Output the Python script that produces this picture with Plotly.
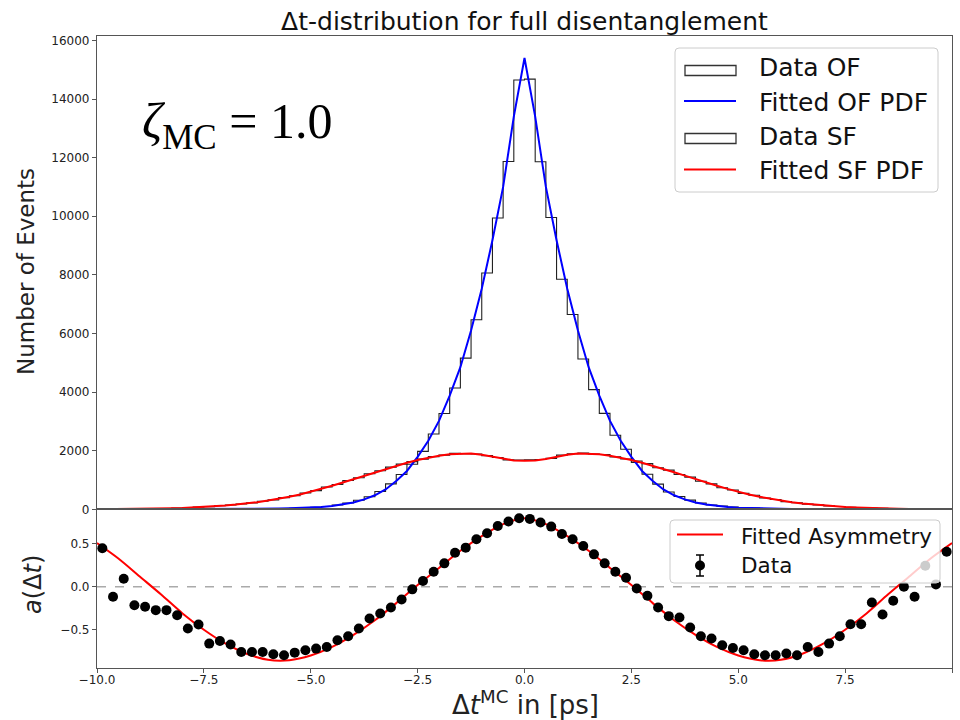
import numpy as np
import plotly.graph_objects as go

# ---- histogram binning (80 bins of 0.25 ps) ----
BIN_LO, BIN_HI, N_BINS = -10.0, 10.0, 80

# opposite-flavour event counts per bin, from -10 ps to +10 ps
of_counts = [1, 1, 1, 2, 2, 2, 3, 3, 4, 5, 6, 8, 9, 12, 15, 19, 25, 31, 40, 52,
             72, 100, 150, 215, 310, 430, 610, 870, 1190, 1540, 1980, 2570, 3270, 4140, 5160, 6470, 8065, 9940, 11870, 14650,
             14680, 11860, 9960, 7850, 6650, 5130, 4085, 3275, 2530, 2050, 1600, 1200, 860, 590, 440, 315, 215, 150, 110, 75,
             55, 41, 31, 24, 19, 14, 11, 9, 7, 6, 5, 4, 3, 3, 2, 2, 2, 1, 1, 1]

# same-flavour event counts per bin
sf_counts = [6, 7, 11, 13, 19, 25, 32, 45, 57, 76, 95, 122, 148, 185, 220, 275, 325, 400, 465, 560,
             640, 765, 850, 985, 1080, 1215, 1315, 1440, 1545, 1630, 1715, 1800, 1850, 1910, 1895, 1890, 1835, 1770, 1690, 1680,
             1690, 1700, 1740, 1850, 1900, 1925, 1890, 1870, 1790, 1720, 1650, 1560, 1420, 1340, 1190, 1100, 960, 870, 740, 660,
             545, 480, 390, 335, 265, 225, 180, 152, 118, 98, 74, 60, 43, 34, 25, 18, 14, 11, 8, 6]

# fitted PDFs evaluated on a 0.25 ps grid from -10 to +10 (81 points)
of_fit = [1, 1, 1, 1, 2, 2, 2, 3, 3, 4, 5, 6, 8, 10, 12, 16, 20, 26, 34, 44,
          58, 80, 112, 165, 235, 340, 480, 680, 970, 1310, 1790, 2340, 3020, 3880, 4850, 6100, 7530, 9180, 11000, 13400,
          15400,
          13400, 11000, 9180, 7530, 6100, 4850, 3880, 3020, 2340, 1790, 1310, 970, 680, 480, 340, 235, 165, 112, 80,
          58, 44, 34, 26, 20, 16, 12, 10, 8, 6, 5, 4, 3, 3, 2, 2, 2, 1, 1, 1, 1]
sf_fit = [5, 7, 9, 12, 16, 21, 28, 38, 50, 66, 85, 108, 135, 165, 200, 245, 300, 360, 430, 510,
          600, 700, 805, 915, 1030, 1150, 1265, 1380, 1490, 1590, 1685, 1765, 1830, 1880, 1905, 1905, 1865, 1795, 1720, 1670,
          1655,
          1670, 1720, 1795, 1865, 1905, 1905, 1880, 1830, 1765, 1685, 1590, 1490, 1380, 1265, 1150, 1030, 915, 805, 700,
          600, 510, 430, 360, 300, 245, 200, 165, 135, 108, 85, 66, 50, 38, 28, 21, 16, 12, 9, 7, 5]

# measured asymmetry at bin centres
asym_data = [0.449, -0.117, 0.093, -0.214, -0.233, -0.272, -0.272, -0.331, -0.486, -0.440,
             -0.662, -0.631, -0.673, -0.759, -0.759, -0.759, -0.786, -0.798, -0.767, -0.740,
             -0.720, -0.701, -0.623, -0.576, -0.486, -0.369, -0.311, -0.241, -0.147, -0.030,
             0.067, 0.175, 0.273, 0.397, 0.456, 0.554, 0.624, 0.709, 0.760, 0.799,
             0.791, 0.748, 0.701, 0.616, 0.554, 0.475, 0.378, 0.273, 0.175, 0.105,
             -0.019, -0.105, -0.241, -0.342, -0.358, -0.474, -0.576, -0.603, -0.681, -0.713,
             -0.740, -0.786, -0.798, -0.798, -0.778, -0.798, -0.701, -0.759, -0.662, -0.576,
             -0.436, -0.436, -0.183, -0.323, -0.163, 0.000, -0.117, 0.245, 0.028, 0.409]

# fitted asymmetry on a 0.5 ps grid from -10 to +10 (41 points)
asym_fit = [0.51, 0.33, 0.12, -0.09, -0.31, -0.50, -0.66, -0.78, -0.85, -0.855,
            -0.80, -0.70, -0.56, -0.39, -0.19, 0.02, 0.22, 0.42, 0.59, 0.73,
            0.80,
            0.73, 0.59, 0.42, 0.22, 0.02, -0.19, -0.39, -0.56, -0.70, -0.80,
            -0.855, -0.85, -0.78, -0.66, -0.50, -0.31, -0.09, 0.12, 0.33, 0.51]

# tick labels
x_tickvals = [-10.0, -7.5, -5.0, -2.5, 0.0, 2.5, 5.0, 7.5, 10.0]
x_ticktext = ["\u221210.0", "\u22127.5", "\u22125.0", "\u22122.5", "0.0", "2.5", "5.0", "7.5", "10.0"]
y_tickvals = [0, 2000, 4000, 6000, 8000, 10000, 12000, 14000, 16000]
y_ticktext = ["0", "2000", "4000", "6000", "8000", "10000", "12000", "14000", "16000"]
a_tickvals = [-0.5, 0.0, 0.5]
a_ticktext = ["\u22120.5", "0.0", "0.5"]

# legend labels
dist_labels = ["Data OF", "Fitted OF PDF", "Data SF", "Fitted SF PDF"]
asym_labels = ["Fitted Asymmetry", "Data"]

edges = np.linspace(BIN_LO, BIN_HI, N_BINS + 1)
centers = 0.5 * (edges[:-1] + edges[1:])
fit_grid = np.linspace(BIN_LO, BIN_HI, len(of_fit))
asym_grid = np.linspace(BIN_LO, BIN_HI, len(asym_fit))

# page geometry (pixels) of the plotting area
W, H = 960, 720
ML, MR, MT, MB = 97, 8, 36, 52
PW, PH = W - ML - MR, H - MT - MB


def px(x):
    """Horizontal page pixel -> paper coordinate."""
    return (x - ML) / PW


def py(y):
    """Vertical page pixel (from top) -> paper coordinate."""
    return (H - MB - y) / PH


def step_outline(counts):
    """Outline of a step histogram that starts and ends on the baseline."""
    xs = [edges[0]] + list(edges) + [edges[-1]]
    ys = [0] + list(counts) + [counts[-1], 0]
    return xs, ys


FONT = "DejaVu Sans"
AX_COL = "#555555"
HIST_COL = "#222222"
BLUE, RED = "#0000ff", "#ff0000"

fig = go.Figure()

# ---- upper panel: distributions ----
hx, hy = step_outline(of_counts)
fig.add_trace(go.Scatter(x=hx, y=hy, mode="lines", name=dist_labels[0],
                         line=dict(color=HIST_COL, width=1.1, shape="hv")))
fig.add_trace(go.Scatter(x=fit_grid, y=of_fit, mode="lines", name=dist_labels[1],
                         line=dict(color=BLUE, width=2)))
hx, hy = step_outline(sf_counts)
fig.add_trace(go.Scatter(x=hx, y=hy, mode="lines", name=dist_labels[2],
                         line=dict(color=HIST_COL, width=1.1, shape="hv")))
fig.add_trace(go.Scatter(x=fit_grid, y=sf_fit, mode="lines", name=dist_labels[3],
                         line=dict(color=RED, width=2)))

# ---- lower panel: asymmetry ----
fig.add_trace(go.Scatter(x=asym_grid, y=asym_fit, mode="lines", name=asym_labels[0],
                         line=dict(color=RED, width=2, shape="spline", smoothing=0.8),
                         xaxis="x2", yaxis="y2"))
fig.add_trace(go.Scatter(x=centers, y=asym_data, mode="markers", name=asym_labels[1],
                         marker=dict(color="black", size=10),
                         xaxis="x2", yaxis="y2"))


def rounded_box(x0, y0, x1, y1, r=4):
    """Rounded rectangle path in paper coordinates from page pixels."""
    pts = []
    pts.append(f"M {px(x0 + r)},{py(y0)}")
    pts.append(f"L {px(x1 - r)},{py(y0)}")
    pts.append(f"Q {px(x1)},{py(y0)} {px(x1)},{py(y0 + r)}")
    pts.append(f"L {px(x1)},{py(y1 - r)}")
    pts.append(f"Q {px(x1)},{py(y1)} {px(x1 - r)},{py(y1)}")
    pts.append(f"L {px(x0 + r)},{py(y1)}")
    pts.append(f"Q {px(x0)},{py(y1)} {px(x0)},{py(y1 - r)}")
    pts.append(f"L {px(x0)},{py(y0 + r)}")
    pts.append(f"Q {px(x0)},{py(y0)} {px(x0 + r)},{py(y0)}")
    pts.append("Z")
    return " ".join(pts)


def box_shape(x0, y0, x1, y1):
    return dict(type="path", xref="paper", yref="paper", path=rounded_box(x0, y0, x1, y1),
                fillcolor="rgba(255,255,255,0.8)", line=dict(color="#cccccc", width=1), layer="above")


def rect_icon(x0, y0, x1, y1):
    return dict(type="rect", xref="paper", yref="paper", x0=px(x0), x1=px(x1), y0=py(y0), y1=py(y1),
                fillcolor="rgba(0,0,0,0)", line=dict(color="#333333", width=1.3), layer="above")


def line_icon(x0, x1, y, color):
    return dict(type="line", xref="paper", yref="paper", x0=px(x0), x1=px(x1), y0=py(y), y1=py(y),
                line=dict(color=color, width=2), layer="above")


shapes = [
    # zero reference line of the asymmetry panel
    dict(type="line", xref="x2 domain", yref="y2", x0=0, x1=1, y0=0, y1=0,
         line=dict(color="#aaaaaa", width=1.5, dash="dash"), layer="below"),
    # legend of the upper panel
    box_shape(675, 48, 938, 192),
    rect_icon(685, 65.5, 736, 75.5),
    line_icon(684, 736, 101, BLUE),
    rect_icon(685, 133.5, 736, 143.5),
    line_icon(684, 736, 169.5, RED),
    # legend of the lower panel
    box_shape(670, 520, 940, 583),
    line_icon(677, 723, 534.5, RED),
    dict(type="line", xref="paper", yref="paper", x0=px(700), x1=px(700), y0=py(555), y1=py(576),
         line=dict(color="black", width=1.5), layer="above"),
    dict(type="line", xref="paper", yref="paper", x0=px(696), x1=px(704), y0=py(555), y1=py(555),
         line=dict(color="black", width=1.5), layer="above"),
    dict(type="line", xref="paper", yref="paper", x0=px(696), x1=px(704), y0=py(576), y1=py(576),
         line=dict(color="black", width=1.5), layer="above"),
    dict(type="circle", xref="paper", yref="paper", x0=px(695), x1=px(705), y0=py(560.5), y1=py(570.5),
         fillcolor="black", line=dict(color="black", width=0), layer="above"),
]

legend_text = []
for label, yc in zip(dist_labels, [66, 101, 135.5, 169.5]):
    legend_text.append(dict(text=label, xref="paper", yref="paper", x=px(757), y=py(yc + 1),
                            xanchor="left", yanchor="middle", showarrow=False,
                            font=dict(family=FONT, size=25, color="#111111")))
for label, yc in zip(asym_labels, [535, 564]):
    legend_text.append(dict(text=label, xref="paper", yref="paper", x=px(739), y=py(yc + 1),
                            xanchor="left", yanchor="middle", showarrow=False,
                            font=dict(family=FONT, size=21.5, color="#111111")))

axis_common = dict(showline=True, mirror=True, linecolor=AX_COL, linewidth=1.2,
                   showgrid=False, zeroline=False, tickcolor=AX_COL, ticklen=4,
                   tickfont=dict(family=FONT, size=12, color="#222222"))

fig.update_layout(
    width=W, height=H,
    margin=dict(l=ML, r=MR, t=MT, b=MB),
    paper_bgcolor="white", plot_bgcolor="white",
    showlegend=False,
    title=dict(text="\u0394t-distribution for full disentanglement", x=0.5, xref="paper",
               y=1 - 21 / H, yref="container", yanchor="middle", xanchor="center",
               font=dict(family=FONT, size=25, color="#111111")),
    xaxis=dict(range=[BIN_LO, BIN_HI], anchor="y", showticklabels=False, ticks="", **axis_common),
    yaxis=dict(domain=[0.251, 1.0], range=[0, 16150], anchor="x", ticks="outside",
               tickvals=y_tickvals, ticktext=y_ticktext, **axis_common),
    xaxis2=dict(range=[BIN_LO, BIN_HI], anchor="y2", matches="x", ticks="outside",
                tickvals=x_tickvals, ticktext=x_ticktext, ticklabelstandoff=-4, **axis_common),
    yaxis2=dict(domain=[0.0, 0.251], range=[-0.946, 0.902], anchor="x2", ticks="outside",
                tickvals=a_tickvals, ticktext=a_ticktext, **axis_common),
    shapes=shapes,
    annotations=legend_text + [
        dict(text="Number of Events", xref="paper", yref="paper", x=px(26), y=py(272),
             textangle=-90, showarrow=False, xanchor="center", yanchor="middle",
             font=dict(family=FONT, size=23, color="#222222")),
        dict(text="<i>a</i>(\u0394<i>t</i>)", xref="paper", yref="paper", x=px(33), y=py(585),
             textangle=-90, showarrow=False, xanchor="center", yanchor="middle",
             font=dict(family=FONT, size=24, color="#222222")),
        dict(text="\u0394<i>t</i><sup>MC</sup> in [ps]", xref="paper", yref="paper", x=px(525), y=py(703),
             showarrow=False, xanchor="center", yanchor="middle",
             font=dict(family=FONT, size=26, color="#222222")),
        dict(text="<i>\u03b6</i><sub>MC</sub> = 1.0", xref="paper", yref="paper", x=px(140),
             y=py(125), showarrow=False, xanchor="left", yanchor="middle",
             font=dict(family="Liberation Serif", size=50, color="black")),
    ],
)

fig.write_html("out.html")
